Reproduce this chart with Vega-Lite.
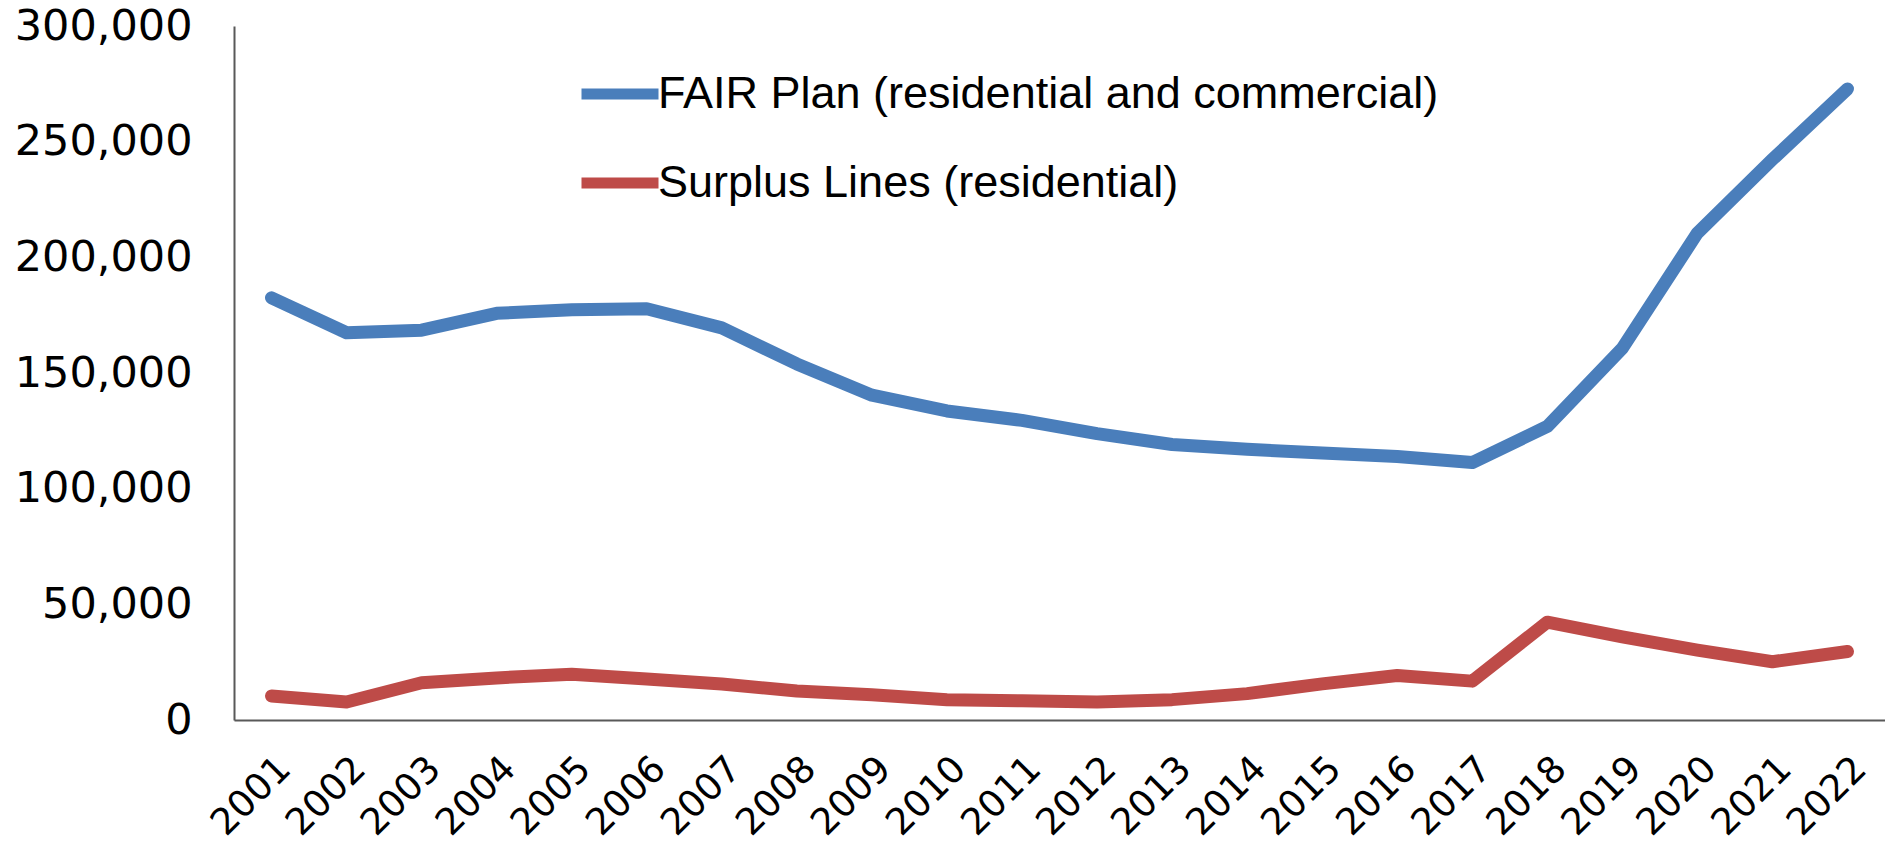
{
  "$schema": "https://vega.github.io/schema/vega-lite/v6.json",
  "width": 1651,
  "height": 694,
  "autosize": {"type": "none"},
  "padding": {"left": 234, "top": 26, "right": 0, "bottom": 124},
  "background": "white",
  "data": {
    "values": [
      {"year": "2001", "series": "FAIR Plan (residential and commercial)", "value": 182500},
      {"year": "2002", "series": "FAIR Plan (residential and commercial)", "value": 167400},
      {"year": "2003", "series": "FAIR Plan (residential and commercial)", "value": 168500},
      {"year": "2004", "series": "FAIR Plan (residential and commercial)", "value": 175800},
      {"year": "2005", "series": "FAIR Plan (residential and commercial)", "value": 177300},
      {"year": "2006", "series": "FAIR Plan (residential and commercial)", "value": 177800},
      {"year": "2007", "series": "FAIR Plan (residential and commercial)", "value": 169500},
      {"year": "2008", "series": "FAIR Plan (residential and commercial)", "value": 153900},
      {"year": "2009", "series": "FAIR Plan (residential and commercial)", "value": 140400},
      {"year": "2010", "series": "FAIR Plan (residential and commercial)", "value": 133600},
      {"year": "2011", "series": "FAIR Plan (residential and commercial)", "value": 129500},
      {"year": "2012", "series": "FAIR Plan (residential and commercial)", "value": 123800},
      {"year": "2013", "series": "FAIR Plan (residential and commercial)", "value": 119100},
      {"year": "2014", "series": "FAIR Plan (residential and commercial)", "value": 117000},
      {"year": "2015", "series": "FAIR Plan (residential and commercial)", "value": 115400},
      {"year": "2016", "series": "FAIR Plan (residential and commercial)", "value": 113900},
      {"year": "2017", "series": "FAIR Plan (residential and commercial)", "value": 111300},
      {"year": "2018", "series": "FAIR Plan (residential and commercial)", "value": 126900},
      {"year": "2019", "series": "FAIR Plan (residential and commercial)", "value": 160700},
      {"year": "2020", "series": "FAIR Plan (residential and commercial)", "value": 210500},
      {"year": "2021", "series": "FAIR Plan (residential and commercial)", "value": 242300},
      {"year": "2022", "series": "FAIR Plan (residential and commercial)", "value": 272800},
      {"year": "2001", "series": "Surplus Lines (residential)", "value": 10400},
      {"year": "2002", "series": "Surplus Lines (residential)", "value": 7800},
      {"year": "2003", "series": "Surplus Lines (residential)", "value": 16100},
      {"year": "2004", "series": "Surplus Lines (residential)", "value": 18200},
      {"year": "2005", "series": "Surplus Lines (residential)", "value": 19800},
      {"year": "2006", "series": "Surplus Lines (residential)", "value": 17700},
      {"year": "2007", "series": "Surplus Lines (residential)", "value": 15600},
      {"year": "2008", "series": "Surplus Lines (residential)", "value": 12500},
      {"year": "2009", "series": "Surplus Lines (residential)", "value": 10900},
      {"year": "2010", "series": "Surplus Lines (residential)", "value": 8800},
      {"year": "2011", "series": "Surplus Lines (residential)", "value": 8300},
      {"year": "2012", "series": "Surplus Lines (residential)", "value": 7800},
      {"year": "2013", "series": "Surplus Lines (residential)", "value": 8800},
      {"year": "2014", "series": "Surplus Lines (residential)", "value": 11400},
      {"year": "2015", "series": "Surplus Lines (residential)", "value": 15600},
      {"year": "2016", "series": "Surplus Lines (residential)", "value": 19200},
      {"year": "2017", "series": "Surplus Lines (residential)", "value": 16800},
      {"year": "2018", "series": "Surplus Lines (residential)", "value": 42300},
      {"year": "2019", "series": "Surplus Lines (residential)", "value": 35900},
      {"year": "2020", "series": "Surplus Lines (residential)", "value": 30200},
      {"year": "2021", "series": "Surplus Lines (residential)", "value": 25200},
      {"year": "2022", "series": "Surplus Lines (residential)", "value": 29600}
    ]
  },
  "mark": {"type": "line", "strokeWidth": 13, "strokeCap": "round", "strokeJoin": "round"},
  "encoding": {
    "x": {
      "field": "year",
      "type": "ordinal",
      "scale": {"type": "point", "padding": 0.5},
      "axis": {
        "title": null,
        "labelAngle": -45,
        "labelFont": "DejaVu Sans",
        "labelFontSize": 37,
        "labelColor": "#000000",
        "labelPadding": 30,
        "ticks": false,
        "domainColor": "#595959",
        "domainWidth": 2,
        "grid": false
      }
    },
    "y": {
      "field": "value",
      "type": "quantitative",
      "scale": {"domain": [0, 300000], "nice": false},
      "axis": {
        "title": null,
        "values": [0, 50000, 100000, 150000, 200000, 250000, 300000],
        "format": ",.0f",
        "labelFont": "DejaVu Sans",
        "labelFontSize": 43,
        "labelColor": "#000000",
        "labelPadding": 42,
        "ticks": false,
        "domainColor": "#595959",
        "domainWidth": 2,
        "grid": false
      }
    },
    "color": {
      "field": "series",
      "type": "nominal",
      "scale": {
        "domain": ["FAIR Plan (residential and commercial)", "Surplus Lines (residential)"],
        "range": ["#4A7EBB", "#BE4B48"]
      },
      "legend": {
        "title": null,
        "orient": "none",
        "legendX": 342,
        "legendY": 24,
        "symbolType": "stroke",
        "symbolSize": 5929,
        "symbolStrokeWidth": 11,
        "labelFont": "Liberation Sans",
        "labelFontSize": 45,
        "labelColor": "#000000",
        "labelOffset": -6,
        "rowPadding": 22,
        "labelLimit": 1000
      }
    }
  },
  "config": {"view": {"stroke": null}}
}
